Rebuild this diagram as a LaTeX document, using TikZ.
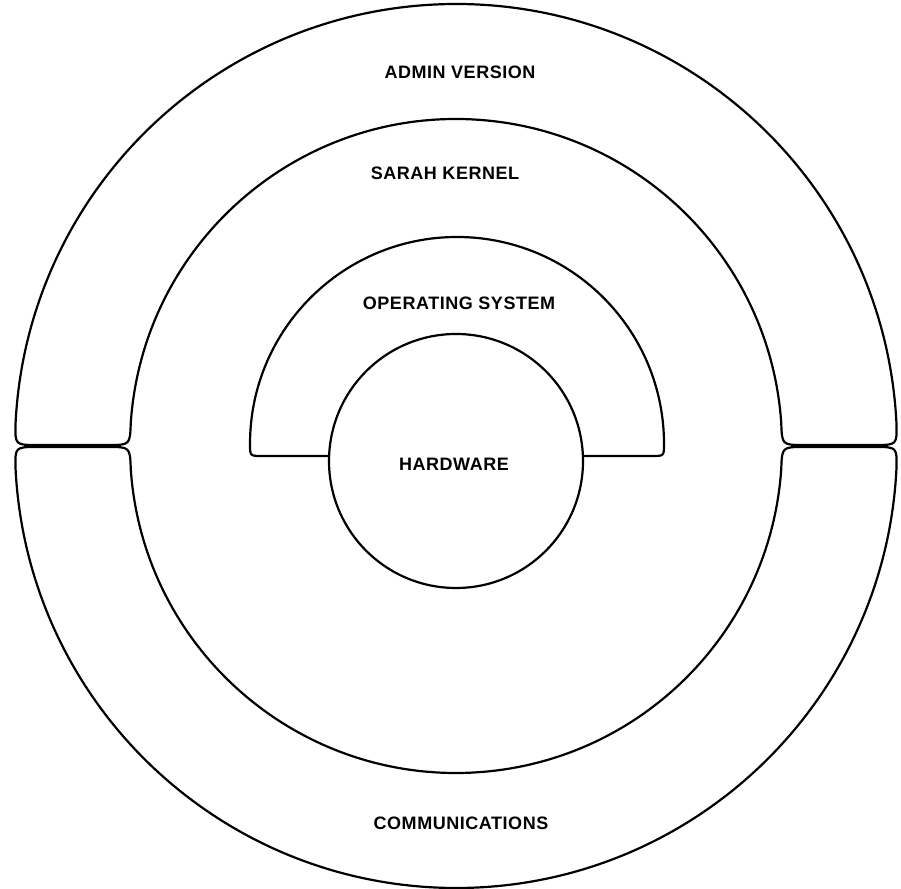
\documentclass[tikz,border=0pt]{standalone}
\usepackage{fontspec}
\setmainfont{Liberation Sans}[LetterSpace=3]
\usepackage{tikz}
\usetikzlibrary{positioning}

\begin{document}
\begin{tikzpicture}[x=1pt,y=1pt,line width=2.2pt,
  ring/.style={draw,line join=round},
  lbl/.style={font=\fontsize{18}{20}\selectfont\bfseries,inner sep=0pt}]
\useasboundingbox (0,0) rectangle (901,888);
% upper ring: admin version
\begin{scope}[shift={(456,443)}]
\draw[ring] (-419,0) -- (-348,0) .. controls (-326,0) .. (176.13:326)
  arc[start angle=176.13,end angle=3.87,radius=326]
  .. controls (326,0) .. (348,0) -- (419,0) .. controls (441,0) .. (2.86:441)
  arc[start angle=2.86,end angle=177.14,radius=441]
  .. controls (-441,0) .. cycle;
\end{scope}
% lower ring: communications
\begin{scope}[shift={(456,441)},yscale=-1]
\draw[ring] (-419,0) -- (-348,0) .. controls (-326,0) .. (176.13:326)
  arc[start angle=176.13,end angle=3.87,radius=326]
  .. controls (326,0) .. (348,0) -- (419,0) .. controls (441,0) .. (2.86:441)
  arc[start angle=2.86,end angle=177.14,radius=441]
  .. controls (-441,0) .. cycle;
\end{scope}
% operating system arch
\begin{scope}[shift={(457,442)}]
\draw[ring] (-127.9,-10) -- (-195,-10) .. controls (-207,-10) .. (-207,2)
  arc[start angle=180,end angle=0,radius=207]
  .. controls (207,-10) .. (195,-10) -- (125.9,-10);
\end{scope}
% hardware
\draw (456,427) circle[radius=127];
% labels
\node[lbl] (admin) at (460,816) {ADMIN VERSION};
\node[lbl] (kernel) at (445,715) {SARAH KERNEL};
\node[lbl] (os) at (459,585) {OPERATING SYSTEM};
\node[lbl] (hw) at (454,424) {HARDWARE};
\node[lbl] (comm) at (461,65) {COMMUNICATIONS};
\end{tikzpicture}
\end{document}
